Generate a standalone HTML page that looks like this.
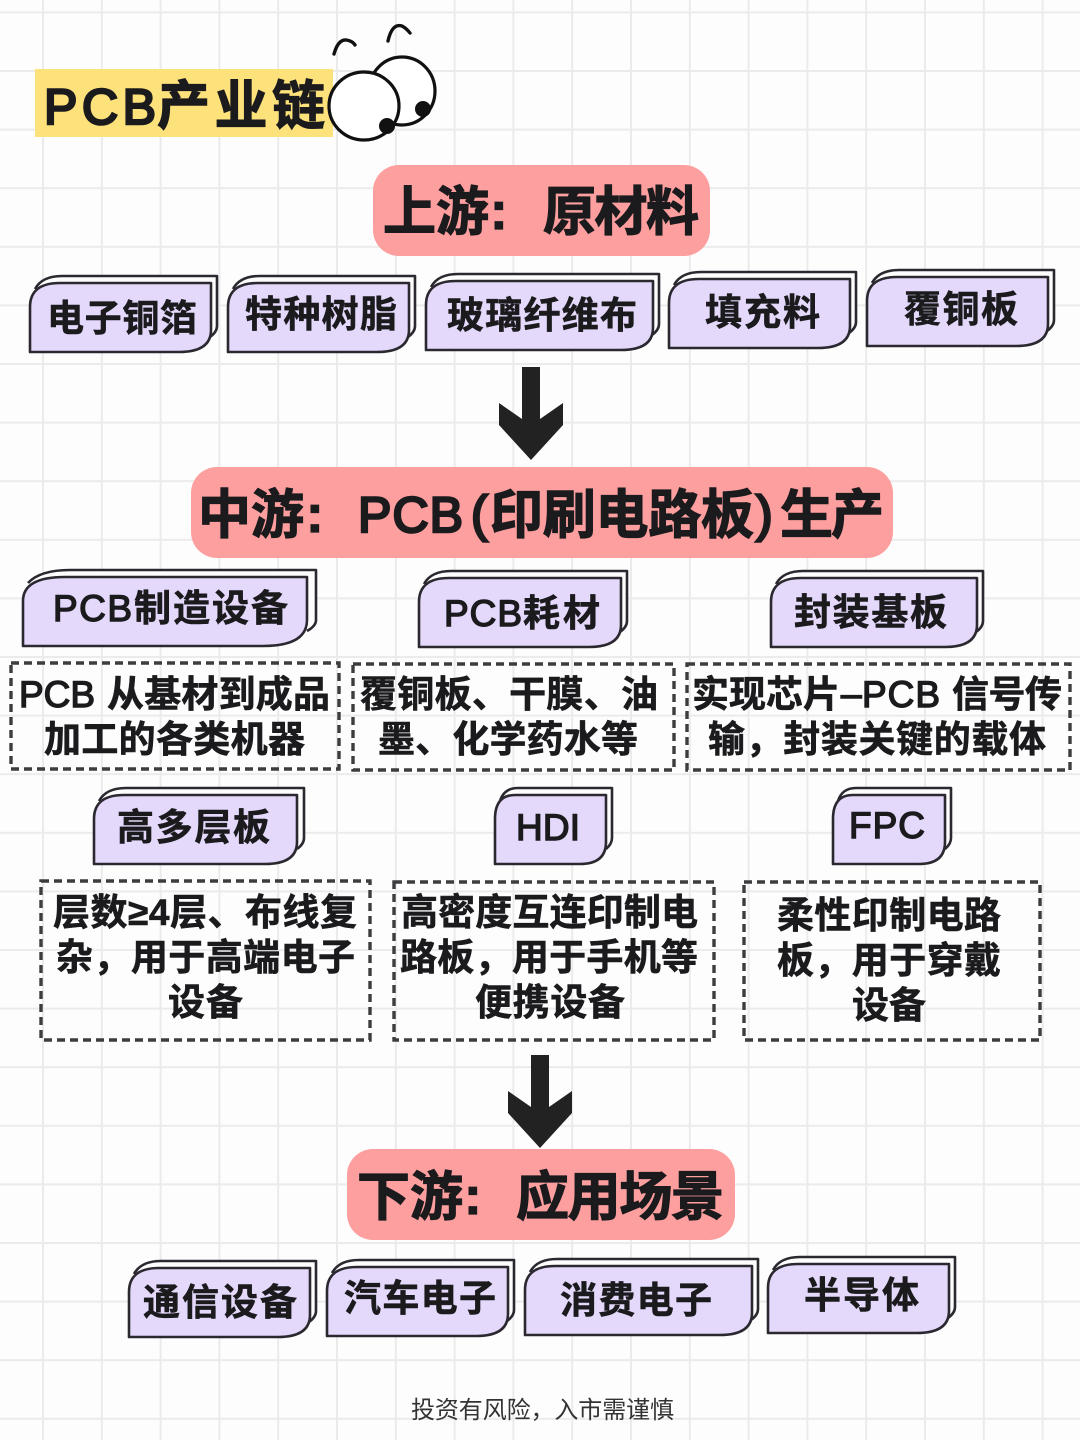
<!DOCTYPE html>
<html lang="zh"><head><meta charset="utf-8"><title>PCB产业链</title>
<style>
html,body{margin:0;padding:0;width:1080px;height:1440px;overflow:hidden;background:#fdfdfd}
svg{display:block}
text{font-family:"Liberation Sans","Noto Sans CJK SC",sans-serif;font-weight:700;fill:#1b1a1d;stroke:#1b1a1d;stroke-width:.6;font-size:37px}
text.h{font-size:53px;stroke-width:1.2}
text.l{font-weight:400;stroke-width:1.4}
text.hl{font-size:50px;font-weight:400;stroke-width:2.6}
text.f{font-size:24px;font-weight:400;stroke:none;fill:#333}
.back{fill:#fdfdfd;stroke:#2b2830;stroke-width:2.6;stroke-linejoin:round}
.front{fill:#e4d8fb;stroke:#2b2830;stroke-width:2.6;stroke-linejoin:round}
.dash{fill:none;stroke:#3d3d40;stroke-width:3.4;stroke-dasharray:8 5}
.pink{fill:#fd9f9f}
.grid{stroke:#ebebeb;stroke-width:2}
.eye{fill:#fff;stroke:#111;stroke-width:3.2}
.brow{fill:none;stroke:#111;stroke-width:3.4;stroke-linecap:round}
</style></head><body>
<svg width="1080" height="1440" viewBox="0 0 1080 1440" xmlns="http://www.w3.org/2000/svg">
<defs><pattern id="g" width="58.8" height="58.6" patternUnits="userSpaceOnUse" x="42" y="70"><path class="grid" d="M1 0V58.6M0 1H58.8" fill="none"/></pattern></defs>
<rect width="1080" height="1440" fill="#fdfdfd"/>
<rect width="1080" height="1440" fill="url(#g)"/>

<!-- title -->
<rect x="35" y="69" width="298" height="68" fill="#fde27c"/>
<text class="hl" x="44" y="124" textLength="112">PCB</text>
<text class="h" x="157" y="124" textLength="168">产业链</text>
<ellipse class="eye" cx="402" cy="91" rx="33" ry="34"/>
<ellipse class="eye" cx="364" cy="106" rx="35" ry="34"/>
<circle cx="387" cy="126" r="8" fill="#111"/>
<circle cx="423" cy="109" r="8" fill="#111"/>
<path class="brow" d="M334 54Q339 36 350 41Q353 42 355 45"/>
<path class="brow" d="M388 41Q392 23 402 26Q406 28 410 33"/>

<!-- upstream -->
<rect class="pink" x="373" y="165" width="337" height="91" rx="26"/>
<text class="h" x="383" y="230" textLength="106">上游</text>
<text class="h" x="490" y="229">:</text>
<text class="h" x="543" y="230" textLength="156">原材料</text>

<g transform="translate(30,283)"><path class="back" d="M5 6q7-13 27-13H187v50q0 6-7 11"/><path class="front" d="M0 24q0-24 30-24H181v47q0 22-32 22H0Z"/></g>
<text x="47" y="331" textLength="150">电子铜箔</text>
<g transform="translate(228,283)"><path class="back" d="M5 6q7-13 27-13H187v50q0 6-7 11"/><path class="front" d="M0 24q0-24 30-24H181v47q0 22-32 22H0Z"/></g>
<text x="245" y="327" textLength="152">特种树脂</text>
<g transform="translate(426,281)"><path class="back" d="M5 6q7-13 27-13H233v50q0 6-7 11"/><path class="front" d="M0 24q0-24 30-24H227v47q0 22-32 22H0Z"/></g>
<text x="447" y="328" textLength="190">玻璃纤维布</text>
<g transform="translate(669,279)"><path class="back" d="M5 6q7-13 27-13H187v50q0 6-7 11"/><path class="front" d="M0 24q0-24 30-24H181v47q0 22-32 22H0Z"/></g>
<text x="705" y="325" textLength="115">填充料</text>
<g transform="translate(867,277)"><path class="back" d="M5 6q7-13 27-13H187v50q0 6-7 11"/><path class="front" d="M0 24q0-24 30-24H181v47q0 22-32 22H0Z"/></g>
<text x="904" y="322" textLength="114">覆铜板</text>

<!-- arrow 1 -->
<path d="M522 367H540V419L563 403V425L531 460L499 425V403L522 419Z" fill="#222"/>

<!-- midstream -->
<rect class="pink" x="191" y="467" width="702" height="91" rx="26"/>
<text class="h" x="198" y="533" textLength="106">中游</text>
<text class="h" x="306" y="532">:</text>
<text class="hl" x="358" y="532" textLength="105">PCB</text>
<text class="hl" x="471" y="531">(</text>
<text class="h" x="490" y="533" textLength="264">印刷电路板</text>
<text class="hl" x="756" y="531">)</text>
<text class="h" x="780" y="533" textLength="104">生产</text>

<g transform="translate(23,577)"><path class="back" d="M5 6q12-13 42-13H293v50q0 6-9 11"/><path class="front" d="M0 24q0-24 42-24H284v43q0 26-44 26H0Z"/></g>
<text class="l" x="53" y="621" textLength="79">PCB</text>
<text x="134" y="621" textLength="154">制造设备</text>
<g transform="translate(419,578)"><path class="back" d="M5 6q7-13 27-13H208v50q0 6-7 11"/><path class="front" d="M0 24q0-24 30-24H202v47q0 22-32 22H0Z"/></g>
<text class="l" x="444" y="626" textLength="78">PCB</text>
<text x="523" y="626" textLength="77">耗材</text>
<g transform="translate(771,578)"><path class="back" d="M5 6q7-13 27-13H212v50q0 6-7 11"/><path class="front" d="M0 24q0-24 30-24H206v47q0 22-32 22H0Z"/></g>
<text x="794" y="625" textLength="153">封装基板</text>

<rect class="dash" x="11" y="663" width="328" height="106"/>
<rect class="dash" x="353" y="664" width="321" height="106"/>
<rect class="dash" x="687" y="664" width="383" height="106"/>
<text class="l" x="19" y="707" textLength="76">PCB</text>
<text x="107" y="707" textLength="223">从基材到成品</text>
<text x="44" y="752" textLength="261">加工的各类机器</text>
<text x="360" y="707" textLength="298">覆铜板、干膜、油</text>
<text x="378" y="752" textLength="260">墨、化学药水等</text>
<text x="692" y="707" textLength="148">实现芯片</text>
<text class="l" x="841" y="706">–</text>
<text class="l" x="862" y="707" textLength="78">PCB</text>
<text x="952" y="707" textLength="110">信号传</text>
<text x="708" y="752" textLength="338">输，封装关键的载体</text>

<g transform="translate(94,795)"><path class="back" d="M5 6q7-13 27-13H210v50q0 6-7 11"/><path class="front" d="M0 24q0-24 30-24H203v47q0 22-32 22H0Z"/></g>
<text x="117" y="840" textLength="153">高多层板</text>
<g transform="translate(495,795)"><path class="back" d="M5 6q4-13 18-13H117v50q0 6-6 11"/><path class="front" d="M0 24q0-24 20-24H111v47q0 22-26 22H0Z"/></g>
<text class="l" x="516" y="840" textLength="64">HDI</text>
<g transform="translate(833,795)"><path class="back" d="M5 6q4-13 18-13H118v50q0 6-6 11"/><path class="front" d="M0 24q0-24 20-24H112v47q0 22-26 22H0Z"/></g>
<text class="l" x="849" y="838" textLength="76">FPC</text>

<rect class="dash" x="41" y="881" width="329" height="159"/>
<rect class="dash" x="394" y="882" width="320" height="158"/>
<rect class="dash" x="744" y="882" width="296" height="158"/>
<text x="53" y="925" textLength="304">层数≥4层、布线复</text>
<text x="56" y="970" textLength="299">杂，用于高端电子</text>
<text x="168" y="1015" textLength="75">设备</text>
<text x="401" y="925" textLength="297">高密度互连印制电</text>
<text x="400" y="970" textLength="298">路板，用于手机等</text>
<text x="475" y="1015" textLength="150">便携设备</text>
<text x="777" y="928" textLength="224">柔性印制电路</text>
<text x="777" y="973" textLength="224">板，用于穿戴</text>
<text x="852" y="1018" textLength="74">设备</text>

<!-- arrow 2 -->
<path d="M531 1055H549V1107L572 1091V1113L540 1148L508 1113V1091L531 1107Z" fill="#222"/>

<!-- downstream -->
<rect class="pink" x="347" y="1149" width="388" height="91" rx="26"/>
<text class="h" x="357" y="1215" textLength="106">下游</text>
<text class="h" x="464" y="1214">:</text>
<text class="h" x="516" y="1215" textLength="208">应用场景</text>

<g transform="translate(129,1268)"><path class="back" d="M5 6q7-13 27-13H187v50q0 6-7 11"/><path class="front" d="M0 24q0-24 30-24H181v47q0 22-32 22H0Z"/></g>
<text x="143" y="1315" textLength="154">通信设备</text>
<g transform="translate(327,1267)"><path class="back" d="M5 6q7-13 27-13H187v50q0 6-7 11"/><path class="front" d="M0 24q0-24 30-24H181v47q0 22-32 22H0Z"/></g>
<text x="344" y="1311" textLength="152">汽车电子</text>
<g transform="translate(525,1266)"><path class="back" d="M5 6q7-13 27-13H233v50q0 6-7 11"/><path class="front" d="M0 24q0-24 30-24H227v47q0 22-32 22H0Z"/></g>
<text x="560" y="1313" textLength="152">消费电子</text>
<g transform="translate(768,1264)"><path class="back" d="M5 6q7-13 27-13H187v50q0 6-7 11"/><path class="front" d="M0 24q0-24 30-24H181v47q0 22-32 22H0Z"/></g>
<text x="804" y="1308" textLength="115">半导体</text>

<text class="f" x="411" y="1418" textLength="263">投资有风险，入市需谨慎</text>
</svg>
</body></html>
